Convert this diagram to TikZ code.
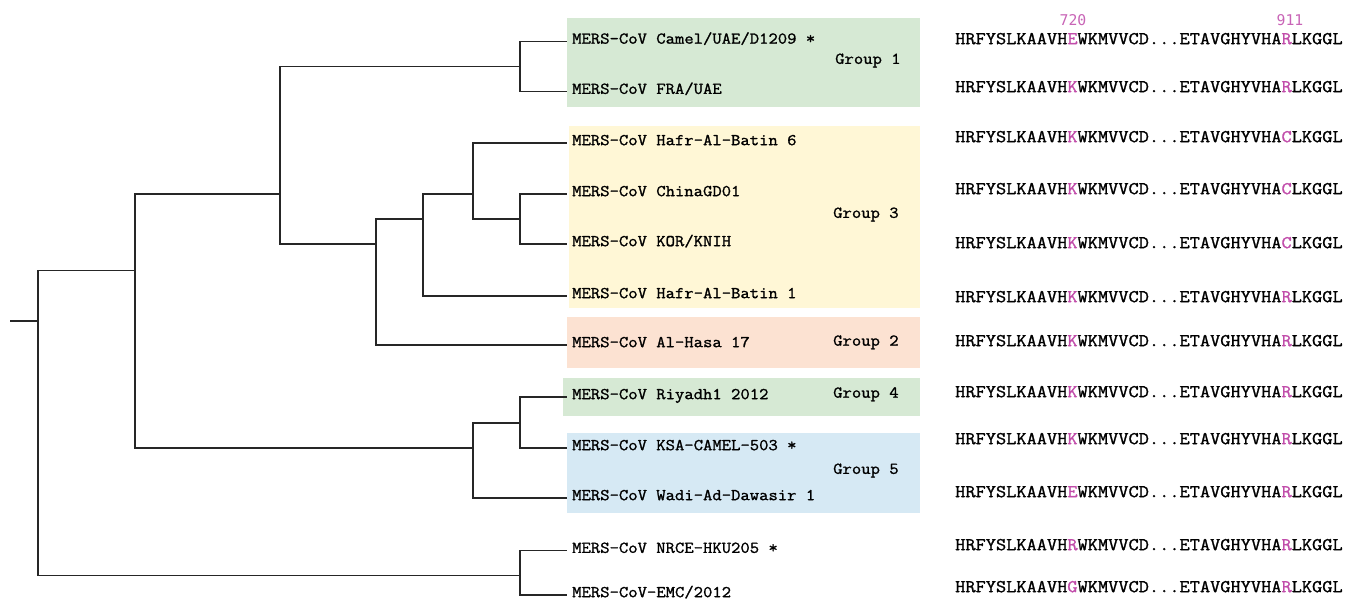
\documentclass[tikz,border=0pt]{standalone}
\usepackage{fontspec}
\newfontfamily\lmt[FakeStretch=1.1,FakeBold=1.3]{Latin Modern Mono}
\newfontfamily\numf{DejaVu Sans Mono}
\definecolor{mypink}{RGB}{193,77,170}
\definecolor{numpink}{RGB}{200,100,182}
\definecolor{gA}{RGB}{214,233,212}
\definecolor{gB}{RGB}{255,247,214}
\definecolor{gC}{RGB}{252,226,210}
\definecolor{gD}{RGB}{214,233,244}
\newcommand{\hlt}[1]{\textcolor{mypink}{#1}}
\newcommand{\seqrow}[2]{HRFYSLKAAVH\hlt{#1}WKMVVCD...ETAVGHYVHA\hlt{#2}LKGGL}
\begin{document}
\begin{tikzpicture}[x=1pt,y=-1pt,
  branch/.style={draw=black!85,line width=1.4pt},
  leaf/.style={font=\lmt\fontsize{16.5}{16.5}\selectfont,anchor=mid west,inner xsep=5pt,inner ysep=0pt},
  grp/.style={font=\lmt\fontsize{16.5}{16.5}\selectfont,anchor=mid west,inner sep=0pt},
  seqtxt/.style={font=\lmt\fontsize{18}{18}\selectfont,anchor=mid west,inner sep=0pt},
  num/.style={font=\numf\fontsize{14.8}{14.8}\selectfont,text=numpink,inner sep=0pt}]
\useasboundingbox (0,0) rectangle (1363,603);
% group boxes
\fill[gA] (566.7,18) rectangle (920,106.7);
\fill[gB] (569.3,126) rectangle (920,307.7);
\fill[gC] (566.7,317.3) rectangle (920,368.3);
\fill[gA] (563.3,377.5) rectangle (920,416);
\fill[gD] (567.3,433.3) rectangle (920,513.3);
% group labels
\node[grp] (lg1) at (835,61.7) {Group 1};
\node[grp] (lg3) at (833,215.7) {Group 3};
\node[grp] (lg2) at (833,343.5) {Group 2};
\node[grp] (lg4) at (833,395.5) {Group 4};
\node[grp] (lg5) at (833,471.7) {Group 5};
% leaves
\node[leaf] (t1) at (567,41.5) {MERS-CoV Camel/UAE/D1209 *};
\node[leaf] (t2) at (567,91.7) {MERS-CoV FRA/UAE};
\node[leaf] (t3) at (567,143) {MERS-CoV Hafr-Al-Batin 6};
\node[leaf] (t4) at (567,194) {MERS-CoV ChinaGD01};
\node[leaf] (t5) at (567,244) {MERS-CoV KOR/KNIH};
\node[leaf] (t6) at (567,296) {MERS-CoV Hafr-Al-Batin 1};
\node[leaf] (t7) at (567,345) {MERS-CoV Al-Hasa 17};
\node[leaf] (t8) at (567,397) {MERS-CoV Riyadh1 2012};
\node[leaf] (t9) at (567,448) {MERS-CoV KSA-CAMEL-503 *};
\node[leaf] (t10) at (567,498) {MERS-CoV Wadi-Ad-Dawasir 1};
\node[leaf] (t11) at (567,550.7) {MERS-CoV NRCE-HKU205 *};
\node[leaf] (t12) at (567,595) {MERS-CoV-EMC/2012};
% internal nodes
\coordinate (R0) at (10,321);
\coordinate (R) at (38,321);
\coordinate (A) at (135,270.7);
\coordinate (N) at (520,575.7);
\coordinate (B) at (280,194);
\coordinate (F) at (473,448);
\coordinate (G) at (520,66.7);
\coordinate (C) at (376,244);
\coordinate (D) at (423,219);
\coordinate (E) at (473,194);
\coordinate (H) at (520,219);
\coordinate (I) at (520,423);
% branches
\draw[branch] (R0) -- (R);
\draw[branch] (R) |- (A);
\draw[branch] (R) |- (N);
\draw[branch] (A) |- (B);
\draw[branch] (A) |- (F);
\draw[branch] (B) |- (G);
\draw[branch] (B) |- (C);
\draw[branch] (G) |- (t1.mid west);
\draw[branch] (G) |- (t2.mid west);
\draw[branch] (C) |- (D);
\draw[branch] (C) |- (t7.mid west);
\draw[branch] (D) |- (E);
\draw[branch] (D) |- (t6.mid west);
\draw[branch] (E) |- (t3.mid west);
\draw[branch] (E) |- (H);
\draw[branch] (H) |- (t4.mid west);
\draw[branch] (H) |- (t5.mid west);
\draw[branch] (F) |- (I);
\draw[branch] (F) |- (t10.mid west);
\draw[branch] (I) |- (t8.mid west);
\draw[branch] (I) |- (t9.mid west);
\draw[branch] (N) |- (t11.mid west);
\draw[branch] (N) |- (t12.mid west);
% position numbers
\node[num] (p720) at (1073,20) {720};
\node[num] (p911) at (1290,20) {911};
% sequences
\node[seqtxt] (s1) at (955,42) {\seqrow{E}{R}};
\node[seqtxt] (s2) at (955,90) {\seqrow{K}{R}};
\node[seqtxt] (s3) at (955,140) {\seqrow{K}{C}};
\node[seqtxt] (s4) at (955,192) {\seqrow{K}{C}};
\node[seqtxt] (s5) at (955,246) {\seqrow{K}{C}};
\node[seqtxt] (s6) at (955,300) {\seqrow{K}{R}};
\node[seqtxt] (s7) at (955,344) {\seqrow{K}{R}};
\node[seqtxt] (s8) at (955,395) {\seqrow{K}{R}};
\node[seqtxt] (s9) at (955,442) {\seqrow{K}{R}};
\node[seqtxt] (s10) at (955,495) {\seqrow{E}{R}};
\node[seqtxt] (s11) at (955,548) {\seqrow{R}{R}};
\node[seqtxt] (s12) at (955,590) {\seqrow{G}{R}};
\end{tikzpicture}
\end{document}
